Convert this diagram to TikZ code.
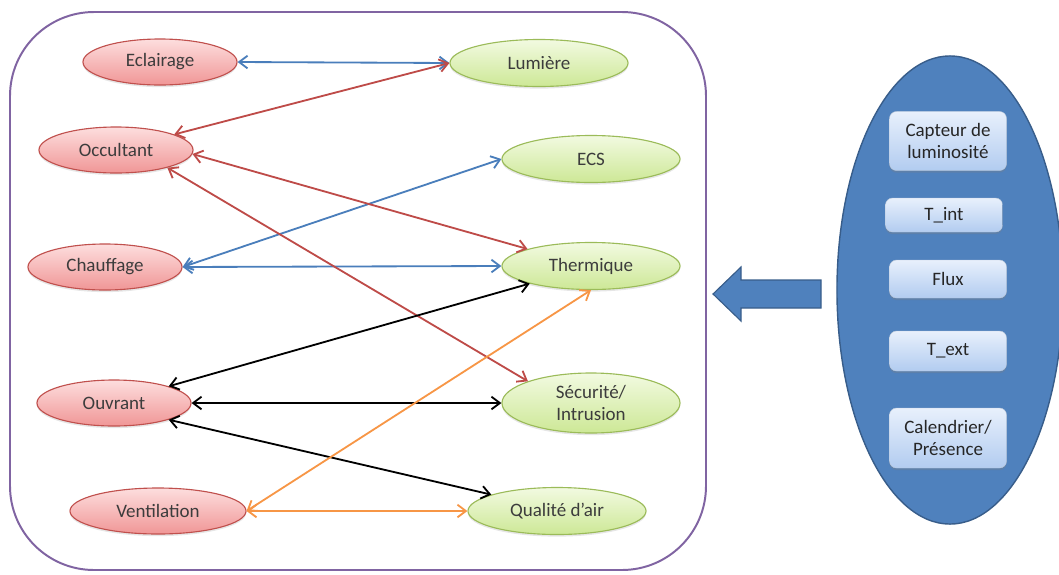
\documentclass[tikz,border=0pt]{standalone}
\usepackage{fontspec}
\setmainfont{Carlito}
\usetikzlibrary{shapes.geometric,arrows.meta,shadows}

\definecolor{framepurple}{RGB}{128,100,162}
\definecolor{labelgray}{RGB}{60,60,60}
\definecolor{acttop}{RGB}{253,222,222}
\definecolor{actbottom}{RGB}{240,150,150}
\definecolor{actborder}{RGB}{192,80,77}
\definecolor{usetop}{RGB}{242,250,225}
\definecolor{usebottom}{RGB}{205,232,150}
\definecolor{useborder}{RGB}{155,187,89}
\definecolor{senstop}{RGB}{232,240,252}
\definecolor{sensbottom}{RGB}{178,204,240}
\definecolor{blockblue}{RGB}{79,129,189}
\definecolor{blockborder}{RGB}{56,93,138}
\definecolor{linkblue}{RGB}{74,126,187}
\definecolor{linkred}{RGB}{190,75,72}
\definecolor{linkorange}{RGB}{247,150,70}

\tikzset{
  actuator/.style={ellipse, draw=actborder, line width=0.8pt,
    top color=acttop, bottom color=actbottom, text=labelgray,
    minimum width=3.85cm, minimum height=1.15cm, inner sep=1pt,
    drop shadow={opacity=0.2, shadow xshift=0pt, shadow yshift=-1.5pt}},
  usage/.style={ellipse, draw=useborder, line width=0.8pt,
    top color=usetop, bottom color=usebottom, text=labelgray,
    minimum width=4.45cm, minimum height=1.175cm, inner sep=1pt, align=center,
    drop shadow={opacity=0.2, shadow xshift=0pt, shadow yshift=-1.5pt}},
  sensor/.style={rectangle, rounded corners=5pt, draw=sensbottom!80!black!60, line width=0.3pt,
    top color=senstop, bottom color=sensbottom, text=black!85,
    minimum width=2.925cm, inner sep=1pt, align=center,
    drop shadow={opacity=0.3, shadow xshift=0pt, shadow yshift=-1.5pt}},
  link/.style={line width=1.3pt,
    {Straight Barb[length=6pt,width=9pt]}-{Straight Barb[length=6pt,width=9pt]}},
}

\begin{document}
\begin{tikzpicture}[x=0.025cm,y=-0.025cm]
                \useasboundingbox (0,0) rectangle (1059,574);
                {\fontsize{13.5}{15.5}\selectfont

                % Drawing frame of the room
                \draw [framepurple, line width=1.4pt, rounded corners=2.1cm] (10,12) rectangle (706,570);%

                % Drawing actuators
                \node [actuator] (ecl) at (160,62) {Eclairage};%
                \node [actuator] (occ) at (116,150) {Occultant};%
                \node [actuator] (chf) at (105,267) {Chauffage};%
                \node [actuator] (ouv) at (114,403) {Ouvrant};%
                \node [actuator, minimum width=4.4cm] (ven) at (158,511) {Ventilation};%

                % Drawing usages
                \node [usage] (lum) at (539,63) {Lumière};%
                \node [usage] (ecs) at (591,159) {ECS};%
                \node [usage] (the) at (591,266) {Thermique};%
                \node [usage, minimum height=1.5cm] (sec) at (591,403) {Sécurité/\\Intrusion};%
                \node [usage] (qai) at (557,511) {Qualité d’air};%

                % Drawing blue links
                \draw [link, linkblue] (ecl.east) -- (lum.west);%
                \draw [link, linkblue] (chf.east) -- (ecs.west);%
                \draw [link, linkblue] (chf.east) -- (the.west);%

                % Drawing red links
                \draw [link, linkred] (occ.15) -- (lum.west);%
                \draw [link, linkred] (occ.-3) -- (the.165);%
                \draw [link, linkred] (occ.-19) -- (sec.161);%

                % Drawing black links
                \draw [link, black] (ouv.17) -- (the.196);%
                \draw [link, black] (ouv.east) -- (sec.west);%
                \draw [link, black] (ouv.-17) -- (qai.166);%

                % Drawing orange links
                \draw [link, linkorange] (ven.east) -- (the.south);%
                \draw [link, linkorange] (ven.east) -- (qai.west);%

                % Drawing block arrow
                \draw [fill=blockblue, draw=blockborder, line width=0.8pt]
                  (821,280) -- (741,280) -- (741,267) -- (713,294) -- (741,321) -- (741,308) -- (821,308) -- cycle;%

                % Drawing sensors
                \node [ellipse, fill=blockblue, draw=blockborder, line width=1pt,
                  minimum width=5.65cm, minimum height=11.7cm] (sens) at (950,290) {};%
                \node [sensor, minimum height=1.475cm] (lux) at (948,141) {Capteur de\\luminosité};%
                \node [sensor, minimum height=0.85cm] (tin) at (944,215) {T\_int};%
                \node [sensor, minimum height=0.95cm] (flx) at (948,279) {Flux};%
                \node [sensor, minimum height=1cm] (tex) at (948,351) {T\_ext};%
                \node [sensor, minimum height=1.5cm] (cal) at (948,438) {Calendrier/\\Présence};%

                }
\end{tikzpicture}
\end{document}
